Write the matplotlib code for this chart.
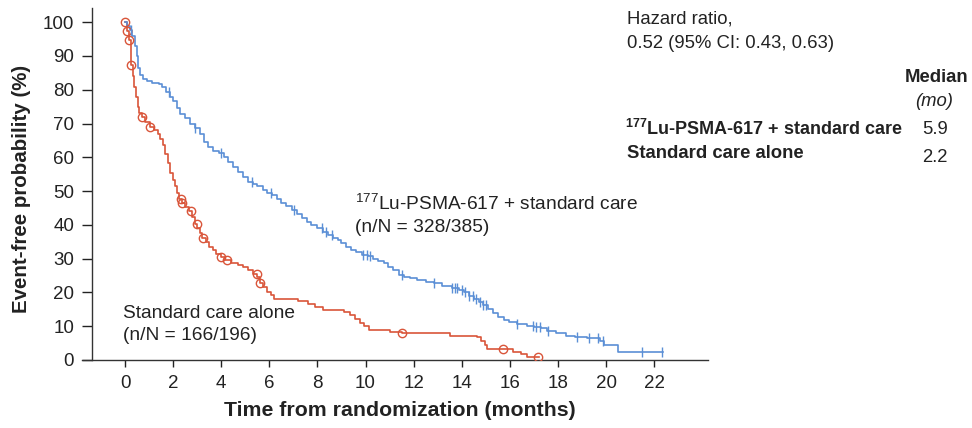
import matplotlib
matplotlib.use('Agg')
import matplotlib.pyplot as plt
import numpy as np

plt.rcParams['font.family'] = ['Liberation Sans', 'DejaVu Sans']
plt.rcParams['mathtext.fontset'] = 'custom'
plt.rcParams['mathtext.rm'] = 'Liberation Sans'
plt.rcParams['mathtext.bf'] = 'Liberation Sans:bold'
plt.rcParams['mathtext.it'] = 'Liberation Sans:italic'

# ---------------- data ----------------
lu_time = [0.0, 0.1, 0.2, 0.3, 0.4, 0.48, 0.55, 0.62, 0.75, 0.9, 1.1, 1.4, 1.55, 1.7, 1.85,
           2.0, 2.15, 2.3, 2.5, 2.7, 2.9, 3.1, 3.3, 3.45, 3.65, 3.9, 4.1, 4.3, 4.5, 4.7,
           4.9, 5.1, 5.3, 5.5, 5.75, 5.9, 6.1, 6.3, 6.5, 6.7, 6.95, 7.15, 7.35, 7.55, 7.75,
           8.0, 8.25, 8.45, 8.65, 8.85, 9.0, 9.2, 9.4, 9.6, 9.85, 10.1, 10.3, 10.5, 10.75,
           10.95, 11.15, 11.4, 11.6, 11.85, 12.15, 12.5, 12.85, 13.2, 13.6, 13.9, 14.1,
           14.3, 14.5, 14.7, 14.9, 15.1, 15.3, 15.5, 15.75, 15.95, 16.3, 16.7, 17.0, 17.3,
           17.55, 17.9, 18.35, 18.7, 19.2, 19.75, 19.9, 20.5, 22.35]
lu_surv = [100, 99.0, 97.7, 96.0, 93.0, 90.0, 86.5, 84.5, 83.3, 82.5, 82.0, 81.7, 80.8, 79.4, 77.8,
           76.6, 74.5, 72.8, 71.5, 69.8, 68.8, 67.0, 64.5, 63.0, 62.0, 61.2, 60.2, 58.5, 57.0, 55.6,
           54.2, 52.8, 52.0, 51.4, 50.3, 49.5, 48.7, 47.6, 46.4, 45.5, 44.4, 43.2, 42.0, 40.9, 40.1,
           39.0, 38.0, 37.0, 36.0, 35.4, 34.5, 33.4, 32.5, 31.9, 31.2, 30.7, 30.0, 29.3, 28.6,
           27.6, 26.5, 25.2, 24.7, 24.2, 23.7, 23.2, 22.7, 22.0, 21.3, 20.8, 20.0,
           19.0, 18.2, 17.2, 16.3, 15.0, 13.8, 12.6, 11.8, 11.2, 10.8, 10.2, 9.9, 9.4,
           8.7, 8.0, 7.1, 6.8, 6.4, 5.5, 4.4, 2.5, 2.5]
lu_censor = [0.25, 1.84, 2.9, 4.01, 5.27, 6.06, 7.03, 8.2, 8.35, 8.6, 9.9, 10.05, 10.2, 11.5,
             12.86, 13.6, 13.7, 13.8, 14.0, 14.15, 14.3, 14.45, 14.6, 14.75, 14.9, 15.0,
             16.3, 16.97, 17.1, 17.27, 17.6, 18.78, 19.3, 19.68, 19.89, 21.48, 22.33]

sc_time = [0.0, 0.08, 0.18, 0.25, 0.32, 0.39, 0.45, 0.52, 0.6, 0.69, 0.85, 1.04, 1.2, 1.36,
           1.46, 1.56, 1.66, 1.77, 1.87, 1.98, 2.07, 2.15, 2.25, 2.35, 2.5, 2.65, 2.8, 2.9,
           3.0, 3.1, 3.2, 3.35, 3.5, 3.65, 3.8, 4.0, 4.15, 4.4, 4.68, 4.9, 5.1, 5.3, 5.5,
           5.6, 5.75, 5.92, 6.05, 6.2, 7.2, 7.6, 7.9, 8.25, 9.1, 9.35, 9.55, 9.75, 9.95,
           10.15, 11.0, 11.5, 13.5, 14.65, 14.8, 14.95, 15.05, 16.15, 16.45, 16.7, 17.2]
sc_surv = [100, 97.4, 94.8, 87.3, 84.0, 80.9, 78.0, 75.0, 73.0, 71.8, 70.5, 69.0, 68.2, 67.0,
           65.5, 63.6, 61.0, 58.2, 55.5, 53.3, 51.5, 49.5, 47.6, 46.5, 45.2, 44.0, 42.2, 40.2,
           39.0, 37.5, 36.0, 34.8, 33.5, 32.5, 31.5, 30.4, 29.5, 28.7, 28.1, 27.5, 26.6, 25.5, 24.6,
           22.8, 21.6, 20.2, 19.3, 18.2, 17.6, 16.6, 15.8, 14.8, 14.3, 13.2, 12.0, 11.0, 10.0,
           9.0, 8.4, 7.9, 7.1, 6.7, 5.6, 4.4, 3.4, 2.5, 1.7, 0.8, 0.8]
sc_censor = [0.0, 0.08, 0.18, 0.25, 0.69, 1.04, 2.32, 2.37, 2.74, 2.99, 3.24, 4.01, 4.22,
             5.48, 5.62, 11.52, 15.71, 17.19]

x_ticks = list(range(0, 23, 2))
y_ticks = list(range(0, 101, 10))

BLUE = '#5b8fd6'
RED = '#d9553a'
TXT = '#222222'


def step_at(times, surv, t):
    times = np.asarray(times)
    surv = np.asarray(surv)
    idx = np.searchsorted(times, np.asarray(t), side='right') - 1
    return surv[np.clip(idx, 0, len(surv) - 1)]


W, H = 972, 428
fig = plt.figure(figsize=(W / 100, H / 100), dpi=100)
ax = fig.add_axes([82 / W, 1 - 360 / H, 626 / W, 352 / H])

ax.plot(sc_time, sc_surv, drawstyle='steps-post', color=RED, lw=1.2, zorder=3)
ax.plot(sc_censor, step_at(sc_time, sc_surv, sc_censor), ls='none', marker='o', ms=6,
        mfc='none', mec=RED, mew=1.0, zorder=4)
ax.plot(lu_time, lu_surv, drawstyle='steps-post', color=BLUE, lw=1.2, zorder=3)
ax.plot(lu_censor, step_at(lu_time, lu_surv, lu_censor), ls='none', marker='|', ms=7,
        mec=BLUE, mew=1.0, zorder=4)

ax.set_xlim(-1.79, 24.24)
ax.set_ylim(0, 104.2)
ax.spines['left'].set_position(('data', -1.37))
ax.spines['left'].set_bounds(0, 104.2)
for s in ('top', 'right'):
    ax.spines[s].set_visible(False)
for s in ('left', 'bottom'):
    ax.spines[s].set_color('#333333')
    ax.spines[s].set_linewidth(1.0)
ax.set_xticks(x_ticks)
ax.set_yticks(y_ticks)
ax.tick_params(axis='y', direction='out', length=7, width=1, labelsize=13.5,
               colors=TXT, pad=6)
ax.tick_params(axis='x', direction='out', length=5, width=1, labelsize=13.5,
               colors=TXT, pad=6)


def ftext(x, y, s, **kw):
    fig.text(x / W, 1 - y / H, s, va='center', color=TXT, **kw)


ftext(22, 189, 'Event-free probability (%)', rotation=90, ha='center',
      fontsize=14.8, fontweight='bold')
ftext(400, 410, 'Time from randomization (months)', ha='center',
      fontsize=15.3, fontweight='bold')

ftext(355, 204, r'$^{177}$Lu-PSMA-617 + standard care', ha='left', fontsize=13.8)
ftext(355, 227, '(n/N = 328/385)', ha='left', fontsize=13.8)
ftext(123, 314, 'Standard care alone', ha='left', fontsize=13.8)
ftext(123, 336, '(n/N = 166/196)', ha='left', fontsize=13.8)

ftext(627, 19, 'Hazard ratio,', ha='left', fontsize=13.3)
ftext(627, 43, '0.52 (95% CI: 0.43, 0.63)', ha='left', fontsize=13.3)
ftext(968, 78, 'Median', ha='right', fontsize=13.3, fontweight='bold')
ftext(953, 101, '(mo)', ha='right', fontsize=13.3, fontstyle='italic')
ftext(625, 129, r'$\mathbf{^{177}}$Lu-PSMA-617 + standard care', ha='left',
      fontsize=13.0, fontweight='bold')
ftext(627, 153, 'Standard care alone', ha='left', fontsize=13.3, fontweight='bold')
ftext(922, 129, '5.9', ha='left', fontsize=13.3)
ftext(922, 157, '2.2', ha='left', fontsize=13.3)

fig.savefig('out.png', dpi=100)
